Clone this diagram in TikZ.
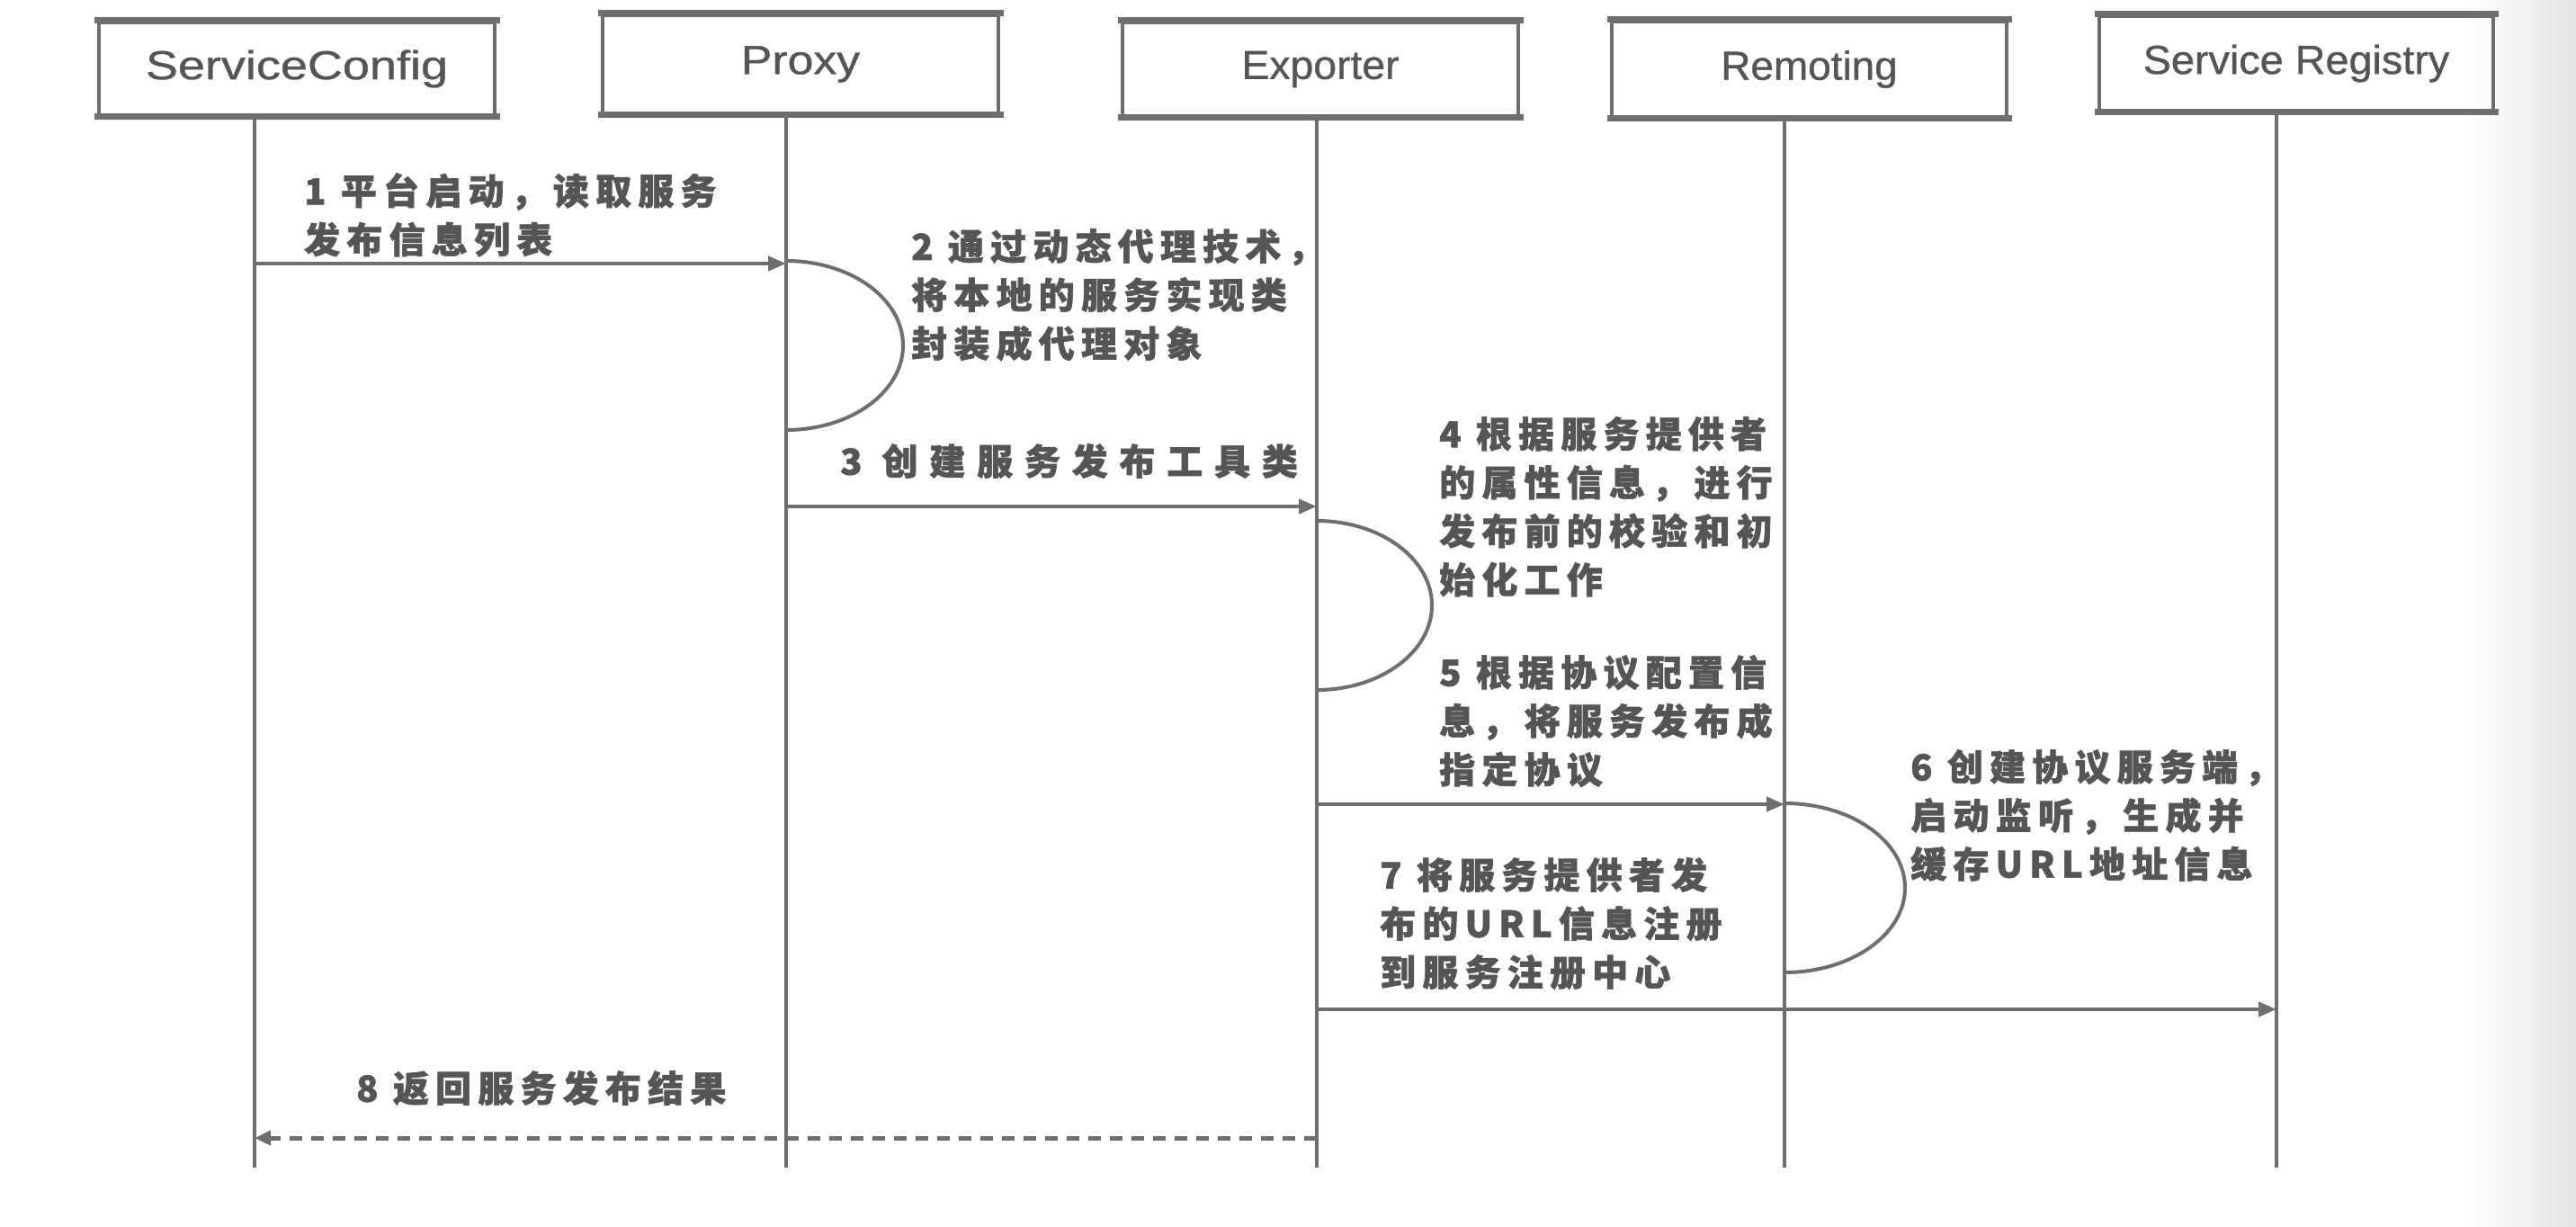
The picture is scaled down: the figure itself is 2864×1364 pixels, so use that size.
\documentclass[tikz,border=0pt]{standalone}
\usepackage{fontspec}
\usetikzlibrary{arrows.meta}
\newfontfamily\boxfont[FakeBold=0.8]{Liberation Sans}
\newfontfamily\cjk[LetterSpace=18,FakeBold=1.5]{Noto Sans CJK SC}
\newfontfamily\cjkwide[LetterSpace=32,FakeBold=1.5]{Noto Sans CJK SC}
\definecolor{ln}{HTML}{6E6E6E}
\definecolor{tx}{HTML}{555555}
\begin{document}
\begin{tikzpicture}[x=1pt,y=-1pt,
  actor/.style={draw=ln, line width=4pt, inner sep=0pt, minimum width=440pt, text=tx},
  boxedge/.style={draw=ln, line width=7pt, line cap=rect},
  life/.style={draw=ln, line width=3.5pt},
  msg/.style={draw=ln, line width=4.5pt, -{Triangle[length=20pt,width=16pt]}},
  ret/.style={draw=ln, line width=5pt, dash pattern=on 14pt off 10pt, -{Triangle[length=18pt,width=16pt]}},
  loopline/.style={draw=ln, line width=4pt},
  lab/.style={anchor=north west, inner sep=0pt, align=left, text=tx,
    font=\cjk\bfseries\fontsize{40}{54}\selectfont},
  labw/.style={lab, font=\cjkwide\bfseries\fontsize{40}{54}\selectfont}]
\useasboundingbox (0,0) rectangle (2864,1364);
\shade[left color=white, right color=black!11] (2745,0) rectangle (2864,1364);

% actors
\node[actor, minimum height=103pt, font=\boxfont\fontsize{45}{54}\selectfont\addfontfeatures{FakeStretch=1.2}] (sc) at (330,76.5) {ServiceConfig};
\node[actor, minimum height=109pt, font=\boxfont\fontsize{45}{54}\selectfont\addfontfeatures{FakeStretch=1.15}] (px) at (890,71.5) {Proxy};
\node[actor, minimum height=104pt, font=\boxfont\fontsize{45}{54}\selectfont\addfontfeatures{FakeStretch=1.03}] (ex) at (1468,77) {Exporter};
\node[actor, minimum height=106pt, minimum width=439pt, font=\boxfont\fontsize{45}{54}\selectfont\addfontfeatures{FakeStretch=1.02}] (rm) at (2011.5,77) {Remoting};
\node[actor, minimum height=105pt, minimum width=438pt, font=\boxfont\fontsize{45}{54}\selectfont\addfontfeatures{FakeStretch=1.04}] (sr) at (2553,70.5) {Service Registry};
\foreach \n in {sc,px,ex,rm,sr}{
  \draw[boxedge] (\n.north west) -- (\n.north east);
  \draw[boxedge] (\n.south west) -- (\n.south east);
}

% lifelines
\coordinate (scb) at (283,1298);
\coordinate (pxb) at (874,1298);
\coordinate (exb) at (1464,1298);
\coordinate (rmb) at (1984,1298);
\coordinate (srb) at (2531,1298);
\draw[life] (sc.south -| scb) -- (scb);
\draw[life] (px.south -| pxb) -- (pxb);
\draw[life] (ex.south -| exb) -- (exb);
\draw[life] (rm.south -| rmb) -- (rmb);
\draw[life] (sr.south -| srb) -- (srb);

% message coordinates
\coordinate (m1s) at (283,293);  \coordinate (m1e) at (874,293);
\coordinate (m3s) at (874,563);  \coordinate (m3e) at (1464,563);
\coordinate (m5s) at (1464,894); \coordinate (m5e) at (1984,894);
\coordinate (m7s) at (1464,1122); \coordinate (m7e) at (2531,1122);
\coordinate (m8s) at (1464,1265); \coordinate (m8e) at (283,1265);

\draw[msg] (m1s) -- (m1e);
\draw[msg] (m3s) -- (m3e);
\draw[msg] (m5s) -- (m5e);
\draw[msg] (m7s) -- (m7e);
\draw[ret] (m8s) -- (m8e);

% self loops
\coordinate (l2s) at (874,290);  \coordinate (l2m) at (1004,384);  \coordinate (l2e) at (874,478);
\coordinate (l4s) at (1464,579); \coordinate (l4m) at (1592,673);  \coordinate (l4e) at (1464,767);
\coordinate (l6s) at (1984,893); \coordinate (l6m) at (2118,987);  \coordinate (l6e) at (1984,1081);
\draw[loopline] (l2s) .. controls +(71.8,0) and +(0,-51.9) .. (l2m) .. controls +(0,51.9) and +(71.8,0) .. (l2e);
\draw[loopline] (l4s) .. controls +(70.7,0) and +(0,-51.9) .. (l4m) .. controls +(0,51.9) and +(70.7,0) .. (l4e);
\draw[loopline] (l6s) .. controls +(74,0) and +(0,-51.9) .. (l6m) .. controls +(0,51.9) and +(74,0) .. (l6e);

% labels
\node[lab] (t1) at (338,192) {1 平台启动，读取服务\\发布信息列表};
\node[lab] (t2) at (1013,254) {2 通过动态代理技术，\\将本地的服务实现类\\封装成代理对象};
\node[labw] (t3) at (934,493) {3 创建服务发布工具类};
\node[lab] (t4) at (1600,463) {4 根据服务提供者\\的属性信息，进行\\发布前的校验和初\\始化工作};
\node[lab] (t5) at (1600,728) {5 根据协议配置信\\息，将服务发布成\\指定协议};
\node[lab] (t6) at (2124,833) {6 创建协议服务端，\\启动监听，生成并\\缓存URL地址信息};
\node[lab] (t7) at (1534,953) {7 将服务提供者发\\布的URL信息注册\\到服务注册中心};
\node[lab] (t8) at (396,1190) {8 返回服务发布结果};
\end{tikzpicture}
\end{document}
